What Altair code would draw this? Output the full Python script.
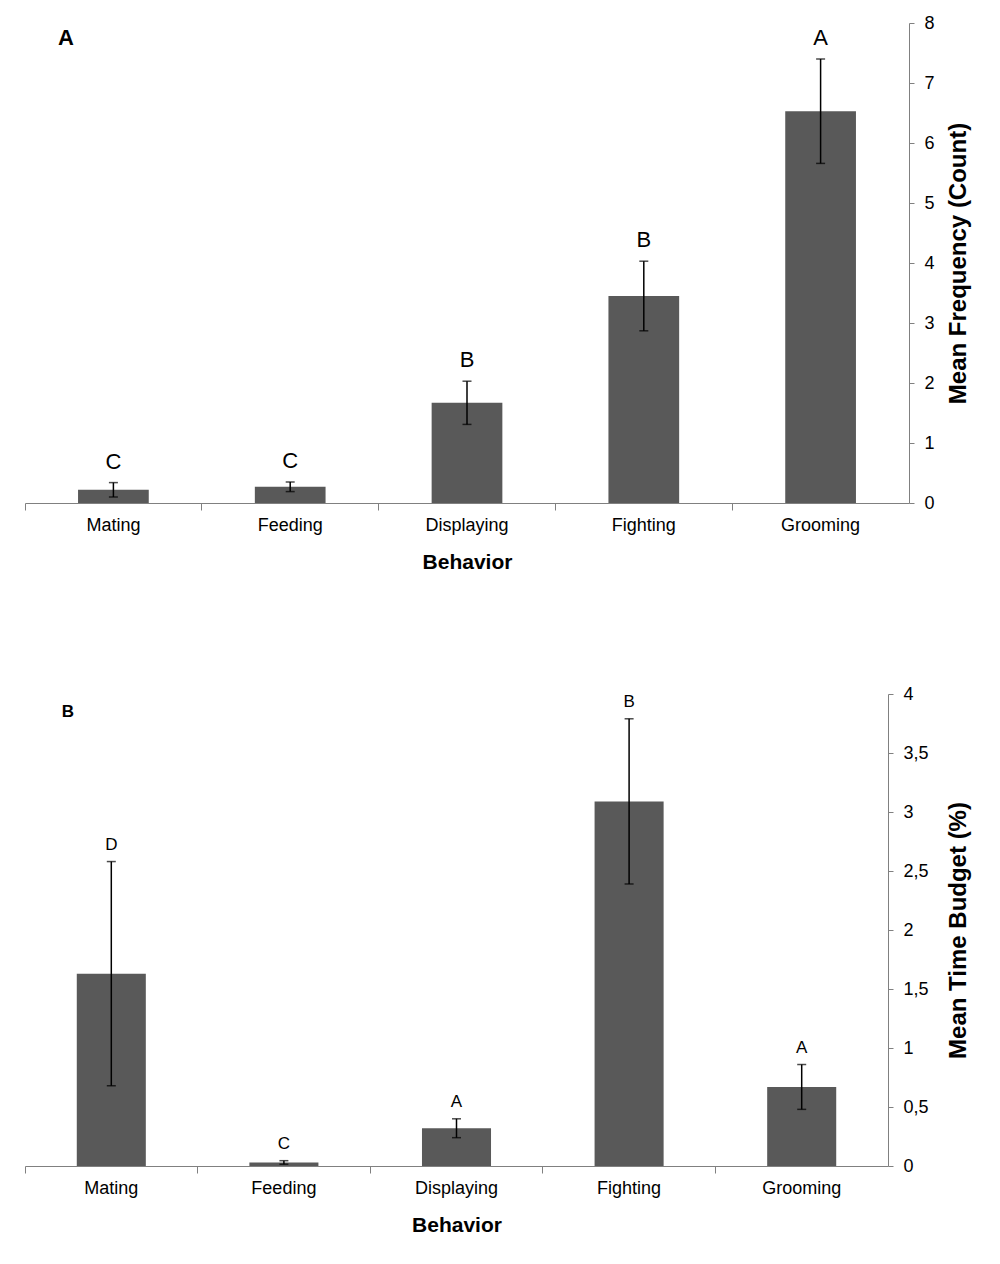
import altair as alt
import pandas as pd

# Behaviour categories, left to right as drawn
behaviors = ["Mating", "Feeding", "Displaying", "Fighting", "Grooming"]

# Panel A: mean frequency (count) with standard errors and group letters
freq_mean = [0.22, 0.27, 1.67, 3.45, 6.53]
freq_err = [0.12, 0.08, 0.36, 0.58, 0.87]
freq_letters = ["C", "C", "B", "B", "A"]
freq_ticks = [0, 1, 2, 3, 4, 5, 6, 7, 8]

# Panel B: mean time budget (%) with standard errors and group letters
time_mean = [1.63, 0.03, 0.32, 3.09, 0.67]
time_err = [0.95, 0.015, 0.08, 0.70, 0.19]
time_letters = ["D", "C", "A", "B", "A"]
time_ticks = [0, 0.5, 1, 1.5, 2, 2.5, 3, 3.5, 4]

FONT = "Liberation Sans"
BAR = "#595959"
AXIS_GREY = "#808080"


def panel(means, errs, letters, ticks, y_title, tag, width, height,
          letter_size, letter_dy, tag_size, tag_x, tag_y, y_title_pad):
    df = pd.DataFrame({
        "behavior": behaviors,
        "mean": means,
        "lo": [m - e for m, e in zip(means, errs)],
        "hi": [m + e for m, e in zip(means, errs)],
        "letter": letters,
    })

    # ticks sit on the band boundaries, labels stay centred under each bar
    x_enc = alt.X(
        "behavior:N", sort=behaviors,
        scale=alt.Scale(paddingInner=0, paddingOuter=0),
        axis=alt.Axis(
            title="Behavior", bandPosition=0,
            labelAngle=0, labelFont=FONT, labelFontSize=18, labelColor="#000",
            labelPadding=6, tickSize=7, tickColor=AXIS_GREY,
            domainColor=AXIS_GREY, titleFont=FONT, titleFontSize=21,
            titleFontWeight="bold", titleColor="#000", titlePadding=17,
        ),
    )
    y_scale = alt.Scale(domain=[ticks[0], ticks[-1]], nice=False)
    y_axis = alt.Axis(
        orient="right", values=ticks, grid=False,
        labelExpr="replace(format(datum.value, '~g'), '.', ',')",
        labelFont=FONT, labelFontSize=18, labelColor="#000", labelPadding=10,
        tickSize=5, tickColor=AXIS_GREY, domainColor=AXIS_GREY,
        title=y_title, titleFont=FONT, titleFontSize=24, titleFontWeight="bold",
        titleColor="#000", titleAngle=270, titleBaseline="top",
        titlePadding=y_title_pad,
    )

    def y(field):
        return alt.Y(f"{field}:Q", scale=y_scale, axis=y_axis)

    base = alt.Chart(df)
    bars = base.mark_bar(color=BAR, width={"band": 0.4}).encode(x=x_enc, y=y("mean"))
    stems = base.mark_rule(color="#000", strokeWidth=1.5).encode(
        x=x_enc, y=y("lo"), y2="hi")
    cap_hi = base.mark_tick(color="#000", size=9, thickness=1.5,
                            orient="horizontal").encode(x=x_enc, y=y("hi"))
    cap_lo = base.mark_tick(color="#000", size=9, thickness=1.5,
                            orient="horizontal").encode(x=x_enc, y=y("lo"))
    labels = base.mark_text(font=FONT, fontSize=letter_size, color="#000",
                            baseline="alphabetic", dy=letter_dy).encode(
        x=x_enc, y=y("hi"), text="letter:N")
    tag_mark = alt.Chart(pd.DataFrame({"tag": [tag]})).mark_text(
        font=FONT, fontSize=tag_size, fontWeight=900, color="#000",
        align="center", baseline="middle").encode(
        x=alt.value(tag_x), y=alt.value(tag_y), text="tag:N")

    return alt.layer(bars, stems, cap_hi, cap_lo, labels, tag_mark).properties(
        width=width, height=height)


chart_a = panel(freq_mean, freq_err, freq_letters, freq_ticks,
                "Mean Frequency (Count)", "A", 884, 480,
                22, -14, 22, 41, 15, 12)
chart_b = panel(time_mean, time_err, time_letters, time_ticks,
                "Mean Time Budget (%)", "B", 863, 472,
                17, -12, 17, 43, 18, 18)

chart = alt.vconcat(chart_a, chart_b, spacing=113).properties(
    padding={"left": 24, "top": 14, "right": 5, "bottom": 5},
    background="white",
).configure_view(stroke=None)

chart.save("out.html", embed_options={"renderer": "svg", "actions": False})
